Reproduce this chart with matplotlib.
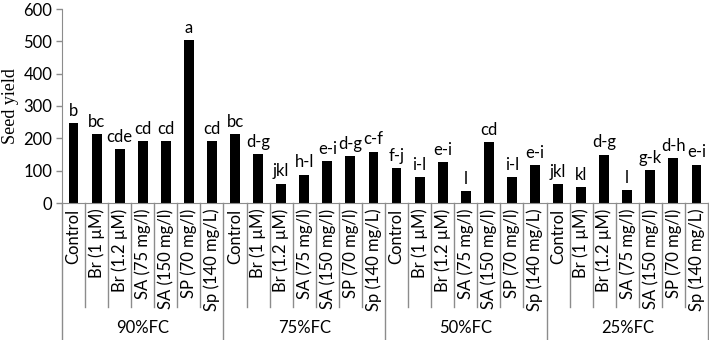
import matplotlib
matplotlib.use("Agg")
import matplotlib.pyplot as plt
import matplotlib.transforms as mtransforms

plt.rcParams["font.family"] = ["Lato", "DejaVu Sans"]

groups = ["90%FC", "75%FC", "50%FC", "25%FC"]
treatments = ["Control", "Br (1 µM)", "Br (1.2 µM)", "SA (75 mg/l)",
              "SA (150 mg/l)", "SP (70 mg/l)", "Sp (140 mg/L)"]
seed_yield = [
    248, 212, 166, 192, 191, 504, 191,   # 90%FC
    213, 152, 60, 88, 129, 145, 159,     # 75%FC
    109, 79, 126, 36, 188, 81, 118,      # 50%FC
    58, 48, 150, 40, 102, 139, 119,      # 25%FC
]
letters = [
    "b", "bc", "cde", "cd", "cd", "a", "cd",
    "bc", "d-g", "jkl", "h-l", "e-i", "d-g", "c-f",
    "f-j", "i-l", "e-i", "l", "cd", "i-l", "e-i",
    "jkl", "kl", "d-g", "l", "g-k", "d-h", "e-i",
]

n = len(seed_yield)
n_per = len(treatments)
axis_gray = "#8c8c8c"
fs = 12

fig = plt.figure(figsize=(7.09, 3.40), dpi=100)
ax = fig.add_axes([62 / 709, 1 - 203 / 340, 646 / 709, 194 / 340])

x = list(range(n))
ax.bar(x, seed_yield, width=0.43, color="black")
for xi, v, lab in zip(x, seed_yield, letters):
    ax.annotate(lab, (xi, v), xytext=(0, 3), textcoords="offset points",
                ha="center", va="bottom", fontsize=fs)

ax.set_xlim(-0.5, n - 0.5)
ax.set_ylim(0, 600)
ax.set_yticks(range(0, 601, 100))
ax.tick_params(axis="y", labelsize=fs, color=axis_gray, length=4, width=1, pad=3)
ax.set_ylabel("Seed yield", family="Liberation Serif", fontsize=13)
ax.yaxis.set_label_coords(-0.066, 0.5)

ax.set_xticks(x)
ax.set_xticklabels(treatments * len(groups), rotation=90, fontsize=fs)
ax.tick_params(axis="x", length=0, pad=4)

for side in ["top", "right"]:
    ax.spines[side].set_visible(False)
for side in ["left", "bottom"]:
    ax.spines[side].set_color(axis_gray)

# category separators below the axis
trans = mtransforms.blended_transform_factory(ax.transData, ax.transAxes)
for i in range(n + 1):
    depth = -0.71 if i % n_per == 0 else -0.535
    ax.plot([i - 0.5, i - 0.5], [0, depth], color=axis_gray, lw=1,
            transform=trans, clip_on=False)

for g, name in enumerate(groups):
    ax.text(g * n_per + (n_per - 1) / 2, -0.645, name, transform=trans,
            ha="center", va="center", fontsize=fs)

fig.savefig("out.png", dpi=100)
plt.close(fig)
